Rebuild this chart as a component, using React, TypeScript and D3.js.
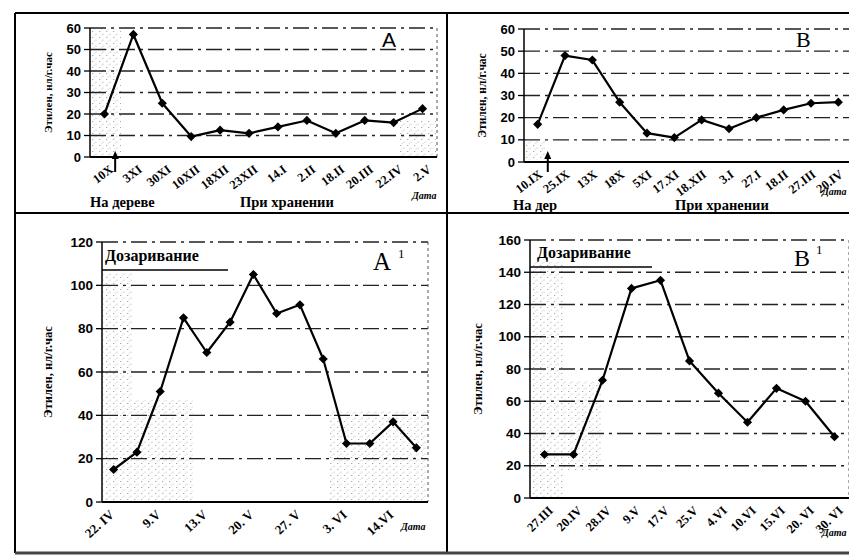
import React from "react";
import * as d3 from "d3";

// panel A: on the tree / in storage
const catsA = ["10X", "3XI", "30XI", "10XII", "18XII", "23XII", "14.I", "2.II", "18.II", "20.III", "22.IV", "2.V"];
const valsA = [20, 57, 25, 9.5, 12.5, 11, 14, 17, 11, 17, 16, 22.5];

// panel B
const catsB = ["10.IX", "25.IX", "13X", "18X", "5XI", "17.XI", "18.XII", "3.I", "27.I", "18.II", "27.III", "20.IV"];
const valsB = [17, 48, 46, 27, 13, 11, 19, 15, 20, 23.5, 26.5, 27];

// panel A1: ripening (labels on every other point)
const catsA1 = ["22. IV", "", "9.V", "", "13.V", "", "20. V", "", "27. V", "", "3. VI", "", "14.VI", ""];
const valsA1 = [15, 23, 51, 85, 69, 83, 105, 87, 91, 66, 27, 27, 37, 25];

// panel B1: ripening
const catsB1 = ["27.III", "20.IV", "28.IV", "9.V", "17.V", "25.V", "4.VI", "10.VI", "15.VI", "20. VI", "30. VI"];
const valsB1 = [27, 27, 73, 130, 135, 85, 65, 47, 68, 60, 38];

const yTitle = "Этилен, нл/г.час";
const serif = "'Liberation Serif', 'DejaVu Serif', serif";
const sans = "'Liberation Sans', Arial, sans-serif";

type PanelProps = {
  cats: string[];
  vals: number[];
  yMax: number;
  yStep: number;
  left: number;
  right: number;
  top: number;
  bottom: number;
  titleX: number;
  labelDx: number;
  angle: number;
  tickFont: number;
  catFont: number;
  titleFont: number;
};

const Panel = (p: PanelProps) => {
  const x = d3.scaleBand().domain(p.cats.map((c, i) => i + "")).range([p.left, p.right]);
  const y = d3.scaleLinear().domain([0, p.yMax]).range([p.bottom, p.top]);
  const ticks = d3.range(0, p.yMax + 1, p.yStep);
  const cx = (i: number) => (x(i + "") as number) + x.bandwidth() / 2;
  const line = d3
    .line<number>()
    .x((d, i) => cx(i))
    .y(d => y(d));
  const diamond = d3.symbol(d3.symbolSquare, 42)();

  return (
    <g>
      {ticks.map(t =>
        t > 0 ? (
          <line
            key={"g" + t}
            x1={p.left}
            x2={p.right}
            y1={y(t)}
            y2={y(t)}
            stroke="#222"
            strokeWidth={1.3}
            strokeDasharray="16 5 3 5"
          />
        ) : null
      )}
      <line x1={p.right} x2={p.right} y1={p.top} y2={p.bottom} stroke="#555" strokeWidth={1} strokeDasharray="3 3" />
      <line x1={p.left} x2={p.left} y1={p.top} y2={p.bottom} stroke="#000" strokeWidth={1.5} />
      <line x1={p.left} x2={p.right} y1={p.bottom} y2={p.bottom} stroke="#000" strokeWidth={2} />
      {ticks.map(t => (
        <g key={"t" + t}>
          <line x1={p.left - 6} x2={p.left} y1={y(t)} y2={y(t)} stroke="#000" strokeWidth={1.3} />
          <text
            x={p.left - 9}
            y={y(t)}
            dy="0.35em"
            textAnchor="end"
            fontFamily={sans}
            fontWeight="bold"
            fontSize={p.tickFont}
          >
            {t}
          </text>
        </g>
      ))}
      {p.cats.map((c, i) =>
        c ? (
          <text
            key={"c" + i}
            transform={`translate(${cx(i) + p.labelDx},${p.bottom + 8}) rotate(${p.angle})`}
            textAnchor="end"
            dy="0.6em"
            fontFamily={serif}
            fontWeight="bold"
            fontSize={p.catFont}
          >
            {c}
          </text>
        ) : null
      )}
      <text
        transform={`translate(${p.titleX},${(p.top + p.bottom) / 2}) rotate(-90)`}
        textAnchor="middle"
        fontFamily={serif}
        fontWeight="bold"
        fontSize={p.titleFont}
      >
        {yTitle}
      </text>
      <path d={line(p.vals) as string} fill="none" stroke="#000" strokeWidth={2.2} strokeLinejoin="round" />
      {p.vals.map((v, i) => (
        <path key={"m" + i} d={diamond as string} transform={`translate(${cx(i)},${y(v)}) rotate(45)`} fill="#000" />
      ))}
    </g>
  );
};

const Arrow = ({ x, y }: { x: number; y: number }) => (
  <g>
    <line x1={x} x2={x} y1={y + 4} y2={y + 20} stroke="#000" strokeWidth={2} />
    <path d={`M${x - 3.5},${y + 7} L${x},${y - 1} L${x + 3.5},${y + 7} Z`} fill="#000" />
  </g>
);

// scanned-paper grain: faint stipple patches where the reference is grey
const grain: [number, number, number, number][] = [
  [91, 29, 30, 127],
  [400, 120, 36, 36],
  [525, 140, 20, 20],
  [103, 272, 30, 229],
  [133, 400, 60, 100],
  [330, 410, 97, 90],
  [531, 262, 32, 235],
  [563, 380, 40, 90],
];

const App = () => {
  const bandA = (437 - 90) / catsA.length;
  const bandB = (852 - 524) / catsB.length;
  return (
    <svg width={849} height={555} style={{ position: "absolute", left: 0, top: 0, background: "#fff" }}>
      <defs>
        <pattern id="stip" width={7} height={6} patternUnits="userSpaceOnUse">
          <rect x={1} y={1} width={1.3} height={1} fill="#666" />
          <rect x={4.5} y={3.6} width={1} height={1.2} fill="#888" />
          <rect x={2.7} y={4.8} width={0.9} height={0.9} fill="#999" />
        </pattern>
      </defs>
      <rect width={849} height={555} fill="#fff" />
      {grain.map((g, i) => (
        <rect key={i} x={g[0]} y={g[1]} width={g[2]} height={g[3]} fill="url(#stip)" opacity={0.55} />
      ))}
      {/* frame */}
      <g stroke="#000" strokeWidth={2}>
        <line x1={15} x2={849} y1={13} y2={13} />
        <line x1={15} x2={15} y1={13} y2={553} />
        <line x1={447} x2={447} y1={13} y2={553} />
        <line x1={15} x2={849} y1={213} y2={213} />
        <line x1={15} x2={849} y1={553} y2={553} stroke="#444" strokeWidth={3} />
      </g>

      <Panel cats={catsA} vals={valsA} yMax={60} yStep={10} left={90} right={437} top={28} bottom={157}
        titleX={52} labelDx={5} angle={-37} tickFont={13} catFont={12.5} titleFont={11} />
      <Panel cats={catsB} vals={valsB} yMax={60} yStep={10} left={524} right={852} top={29} bottom={162}
        titleX={486} labelDx={1} angle={-37} tickFont={13} catFont={12.5} titleFont={11.5} />
      <Panel cats={catsA1} vals={valsA1} yMax={120} yStep={20} left={102} right={428} top={242} bottom={502}
        titleX={52} labelDx={-4} angle={-42} tickFont={13.5} catFont={13} titleFont={12.5} />
      <Panel cats={catsB1} vals={valsB1} yMax={160} yStep={20} left={530} right={849} top={240} bottom={498}
        titleX={482} labelDx={4} angle={-44} tickFont={13.5} catFont={12.5} titleFont={12.5} />

      <Arrow x={90 + bandA * 0.87} y={152} />
      <Arrow x={524 + bandB * 0.87} y={152} />

      {/* panel letters */}
      <text x={382} y={47} fontFamily={sans} fontSize={21}>A</text>
      <text x={796} y={47} fontFamily={serif} fontSize={22}>B</text>
      <text x={373} y={270} fontFamily={serif} fontSize={25}>A</text>
      <text x={398} y={258} fontFamily={serif} fontSize={13}>1</text>
      <text x={794} y={266} fontFamily={serif} fontSize={24}>B</text>
      <text x={816} y={254} fontFamily={serif} fontSize={13}>1</text>

      {/* panel notes */}
      <text x={105} y={261} fontFamily={serif} fontWeight="bold" fontSize={16}>Дозаривание</text>
      <line x1={102} x2={228} y1={270} y2={270} stroke="#000" strokeWidth={1.5} />
      <text x={537} y={258} fontFamily={serif} fontWeight="bold" fontSize={16}>Дозаривание</text>
      <line x1={530} x2={652} y1={267} y2={267} stroke="#000" strokeWidth={1.5} />

      <text x={90} y={207} fontFamily={serif} fontWeight="bold" fontSize={14.5}>На дереве</text>
      <text x={240} y={207} fontFamily={serif} fontWeight="bold" fontSize={14.5}>При хранении</text>
      <text x={513} y={210} fontFamily={serif} fontWeight="bold" fontSize={14.5}>На дер</text>
      <text x={675} y={210} fontFamily={serif} fontWeight="bold" fontSize={14.5}>При хранении</text>

      <g fontFamily={serif} fontWeight="bold" fontStyle="italic" fontSize={10}>
        <text x={412} y={199}>Дата</text>
        <text x={822} y={195}>Дата</text>
        <text x={401} y={530}>Дата</text>
        <text x={822} y={536}>Дата</text>
      </g>
    </svg>
  );
};

export default App;
